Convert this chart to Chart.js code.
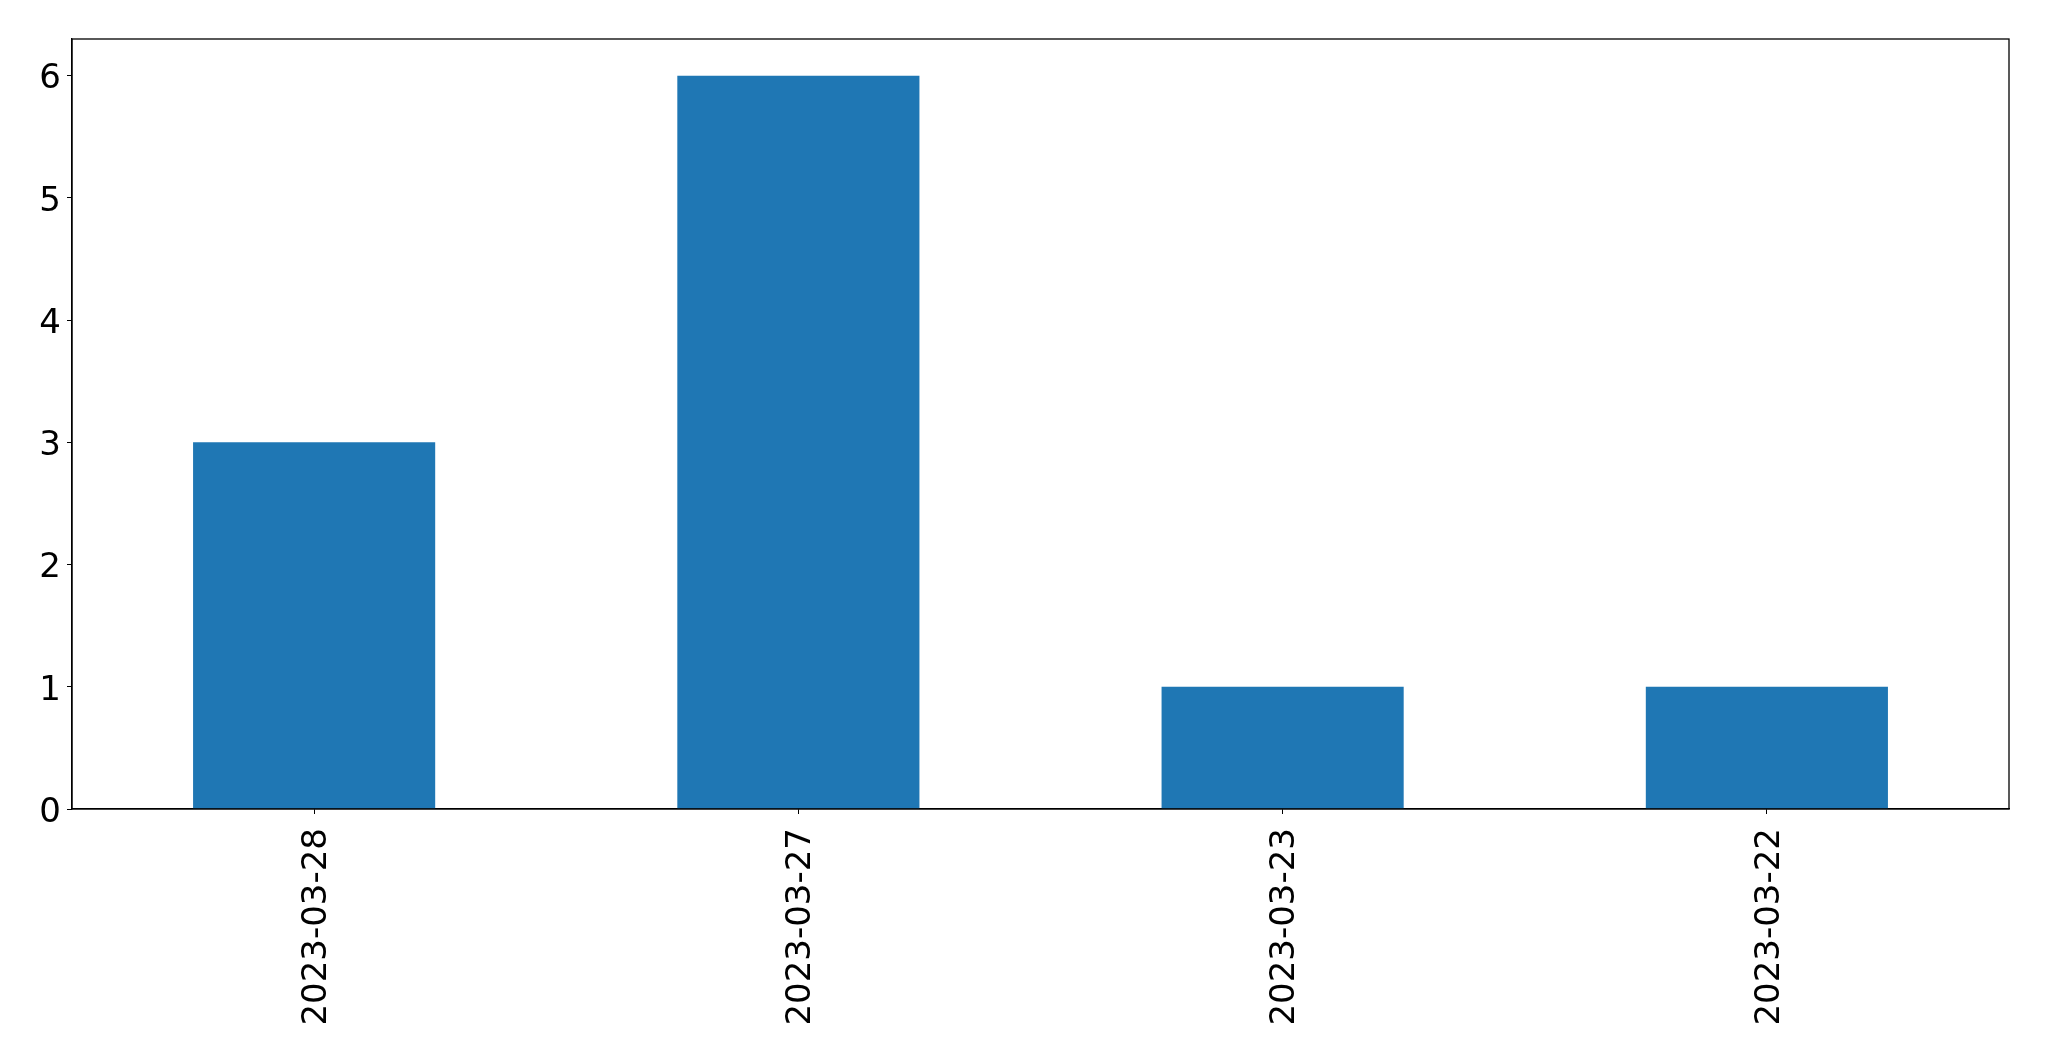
<!DOCTYPE html>
<html><head><meta charset="utf-8">
<script src="https://cdn.jsdelivr.net/npm/chart.js@4/dist/chart.umd.min.js"></script>
<style>html,body{margin:0;padding:0;background:#fff;}canvas{display:block;}</style>
</head><body>
<canvas id="c" width="2049" height="1061"></canvas>
<script>
const categories = ["2023-03-28", "2023-03-27", "2023-03-23", "2023-03-22"];
const counts = [3, 6, 1, 1];
const yTicks = [0, 1, 2, 3, 4, 5, 6];

const framePlugin = {
  id: 'frame',
  afterDraw(chart) {
    const a = chart.chartArea, ctx = chart.ctx;
    ctx.save();
    ctx.strokeStyle = '#000';
    ctx.lineWidth = 1.3;
    ctx.strokeRect(a.left, a.top, a.right - a.left, a.bottom - a.top);
    ctx.restore();
  }
};

new Chart(document.getElementById('c'), {
  type: 'bar',
  data: {
    labels: categories,
    datasets: [{ data: counts, backgroundColor: '#1f77b4', borderWidth: 0,
      barPercentage: 0.5, categoryPercentage: 1.0 }]
  },
  options: {
    responsive: false,
    animation: false,
    layout: { padding: { left: 0, top: 39, right: 40, bottom: 0 } },
    plugins: { legend: { display: false }, tooltip: { enabled: false } },
    scales: {
      x: {
        offset: true,
        grid: { display: true, drawOnChartArea: false, drawTicks: true, tickLength: 5, color: '#000', offset: false },
        border: { display: true, color: '#000', width: 1.3 },
        ticks: { color: '#000', font: { family: 'DejaVu Sans', size: 34 }, minRotation: 90, maxRotation: 90, padding: 14, labelOffset: 3, autoSkip: false },
        afterFit(s) { s.height = 252; }
      },
      y: {
        min: 0, max: 6.3,
        grid: { display: true, drawOnChartArea: false, drawTicks: true, tickLength: 5, color: '#000' },
        border: { display: true, color: '#000', width: 1.3 },
        ticks: { color: '#000', font: { family: 'DejaVu Sans', size: 34 }, stepSize: 1, includeBounds: false, padding: 6, labelOffset: 4,
          callback: (v) => yTicks.includes(v) ? String(v) : null },
        afterFit(s) { s.width = 72; }
      }
    }
  },
  plugins: [framePlugin]
});
</script>
</body></html>
